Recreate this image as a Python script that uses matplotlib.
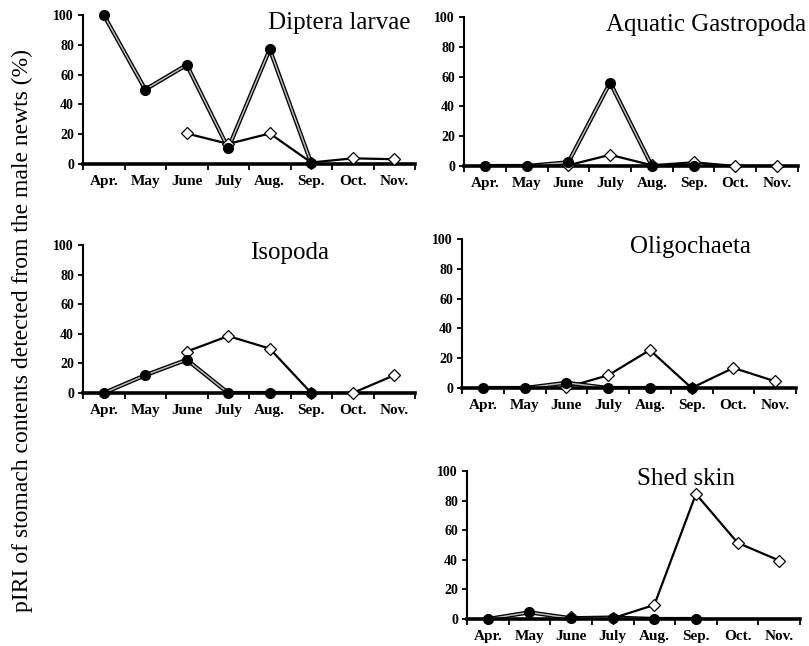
import numpy as np
import matplotlib.pyplot as plt

months = ["Apr.", "May", "June", "July", "Aug.", "Sep.", "Oct.", "Nov."]
nan = np.nan

# filled circles (double line) and open diamonds (solid line), values in %
diptera_fill = [100, 50, 66.5, 10.5, 77, 0.5, nan, nan]
diptera_diam = [nan, nan, 20.5, 13.5, 20.5, 1, 3.8, 3.2]
gastro_fill = [0, 0, 2.5, 56, 0, 0, nan, nan]
gastro_diam = [nan, nan, 0.5, 7.5, 0.5, 2.5, 0, 0]
isopoda_fill = [0, 12, 22.5, 0, 0, 0, nan, nan]
isopoda_diam = [nan, nan, 28, 38.5, 30, 0, 0, 12]
oligo_fill = [0, 0, 3.5, 0, 0, 0, nan, nan]
oligo_diam = [nan, nan, 0.5, 8.5, 25.5, 0, 13.5, 4.5]
shed_fill = [0, 4.5, 0.5, 1, 0, 0, nan, nan]
shed_diam = [nan, nan, 1.5, 0.5, 9.5, 84.5, 51.5, 39.5]

serif = "Liberation Serif"
W, H = 809, 646
fig = plt.figure(figsize=(W / 100, H / 100), dpi=100)


def panel(px, title, fill, diam, tpos, ha):
    # px = (left, right, top, bottom) in pixels
    l, r, t, b = px
    ax = fig.add_axes([l / W, 1 - b / H, (r - l) / W, (b - t) / H])
    x = np.arange(len(months))
    f = np.array(fill, float)
    d = np.array(diam, float)
    # lines stay under the x axis line, markers sit on top of it
    ax.plot(x, d, color="black", lw=1.6, zorder=1.5)
    ax.plot(x, f, color="black", lw=3.0, zorder=1.6)
    ax.plot(x, f, color="#b8b8b8", lw=1.1, zorder=1.7)
    ax.plot(x, d, ls="none", marker="D", ms=6.5, mfc="white", mec="black",
            mew=0.9, zorder=4, clip_on=False)
    ax.plot(x, f, ls="none", marker="o", ms=7, mfc="black", mec="black",
            zorder=5, clip_on=False)
    ax.set_xlim(-0.5, 7.5)
    ax.set_ylim(0, 100)
    ax.set_yticks(range(0, 101, 20))
    ax.set_xticks(x)
    ax.set_xticklabels(months)
    ax.set_xticks(np.arange(-0.5, 8, 1), minor=True)
    ax.tick_params(axis="x", which="major", length=0, pad=8)
    ax.tick_params(axis="x", which="minor", length=4, width=1.3, direction="out")
    ax.tick_params(axis="y", length=3.5, width=1.3, direction="out", pad=3)
    for lab in ax.get_xticklabels() + ax.get_yticklabels():
        lab.set_fontfamily(serif)
        lab.set_fontweight("bold")
    for lab in ax.get_xticklabels():
        lab.set_fontsize(11)
    for lab in ax.get_yticklabels():
        lab.set_fontsize(10)
    ax.spines["top"].set_visible(False)
    ax.spines["right"].set_visible(False)
    ax.spines["left"].set_linewidth(1.5)
    ax.spines["bottom"].set_linewidth(2.6)
    ax.spines["bottom"].set_zorder(3)
    fig.text(tpos[0] / W, 1 - tpos[1] / H, title, family=serif, fontsize=18,
             ha=ha, va="center")
    return ax


panel((83, 415, 15, 164), "Diptera larvae", diptera_fill, diptera_diam,
      (411, 23), "right")
panel((464, 798, 17, 166), "Aquatic Gastropoda", gastro_fill, gastro_diam,
      (806, 25), "right")
panel((83, 415, 245, 393), "Isopoda", isopoda_fill, isopoda_diam,
      (290, 253), "center")
panel((462, 796, 239, 388), "Oligochaeta", oligo_fill, oligo_diam,
      (690, 247), "center")
panel((467, 800, 471, 619), "Shed skin", shed_fill, shed_diam,
      (686, 479), "center")

fig.text(22 / W, 1 - 330 / H,
         "pIRI of stomach contents detected from the male newts (%)",
         family=serif, fontsize=17, rotation=90, ha="center", va="center")

fig.savefig("out.png", dpi=100)
